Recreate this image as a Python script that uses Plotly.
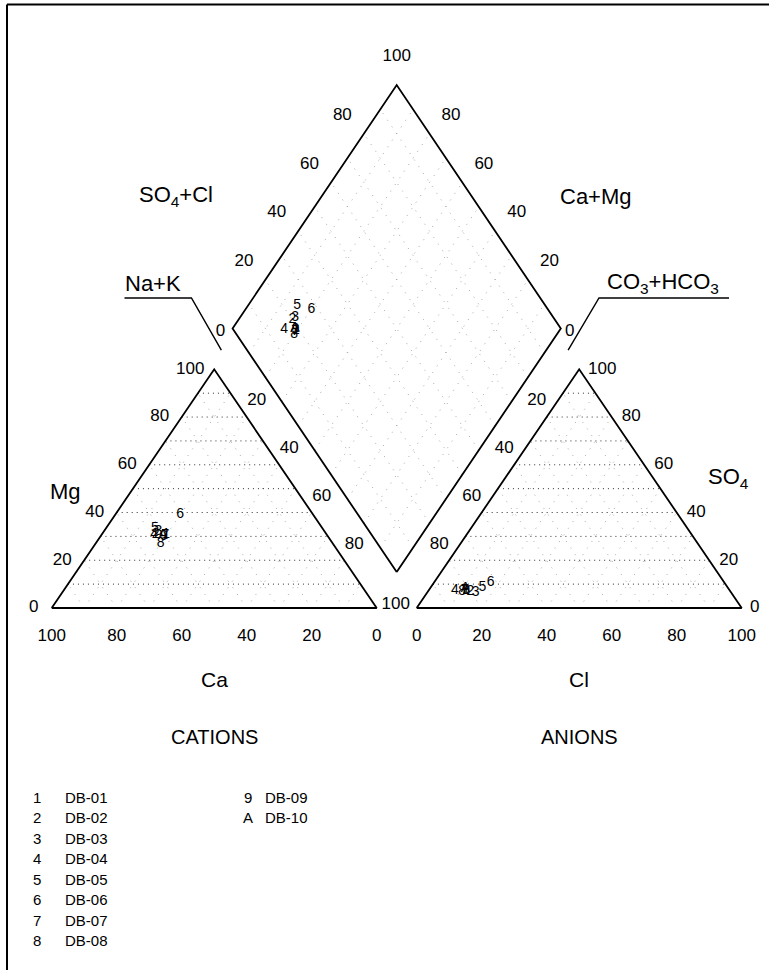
import numpy as np
import plotly.graph_objects as go

# ---------------- data ----------------
symbols = ["1", "2", "3", "4", "5", "6", "7", "8", "9", "A"]
names = ["DB-01", "DB-02", "DB-03", "DB-04", "DB-05", "DB-06", "DB-07", "DB-08", "DB-09", "DB-10"]
# cations (% meq)
ca_pct = [49.3, 52.5, 51.2, 53.0, 51.5, 41.0, 49.8, 53.0, 50.5, 50.5]
mg_pct = [31.0, 31.0, 32.0, 31.0, 33.5, 39.0, 30.5, 27.0, 30.0, 30.5]
nak_pct = [19.7, 16.5, 16.8, 16.0, 15.0, 20.0, 19.7, 20.0, 19.5, 19.0]
# anions (% meq)
hco3_pct = [81.1, 80.0, 78.7, 84.5, 75.6, 72.0, 81.5, 82.5, 81.0, 81.0]
so4_pct = [7.5, 7.0, 6.3, 7.5, 8.4, 10.5, 7.5, 7.0, 7.5, 8.0]
cl_pct = [11.4, 13.0, 15.0, 8.0, 16.0, 17.5, 11.0, 10.5, 11.5, 11.0]

tick_vals = [0, 20, 40, 60, 80, 100]
grid_vals = [10, 20, 30, 40, 50, 60, 70, 80, 90]

# ---------------- geometry ----------------
S = 100.0
H = S * np.sqrt(3) / 2
GAP = 12.3
OX = S + GAP
DBX, DBY = S + GAP / 2, 13.06   # diamond bottom vertex
HW, HH = 50.5, 88.35            # diamond half width / half height

PX_X, PX_Y = 3.25, 2.756        # px per unit
X0_PX, Y0_PX = 51.7, 608.0
W, HGT = 769, 970


def cat_xy(ca, mg, nak):
    tot = ca + mg + nak
    return (nak + mg / 2) / tot * S, mg / tot * H


def an_xy(hco3, so4, cl):
    tot = hco3 + so4 + cl
    return OX + (cl + so4 / 2) / tot * S, so4 / tot * H


def dia_xy(sc, cm):
    a, c = sc / 100.0, cm / 100.0
    return DBX + HW * (a - c), DBY + HH * (a + c)


def px(xp, yp):
    """pixel offsets -> data units"""
    return xp / PX_X, -yp / PX_Y


def at_px(xp, yp):
    """absolute pixel position -> data units"""
    return (xp - X0_PX) / PX_X, (Y0_PX - yp) / PX_Y


fig = go.Figure()

BLACK = "#000000"
FONT = "Liberation Sans, Arial, sans-serif"


def line(xs, ys, color=BLACK, width=1.8, dash="solid"):
    fig.add_trace(go.Scatter(x=xs, y=ys, mode="lines", hoverinfo="skip",
                             line=dict(color=color, width=width, dash=dash),
                             showlegend=False))


def multiline(segs, color, width, dash):
    xs, ys = [], []
    for (p, q) in segs:
        xs += [p[0], q[0], None]
        ys += [p[1], q[1], None]
    line(xs, ys, color, width, dash)


# ---- grids ----
hz, dg = [], []
for k in grid_vals:
    hz.append((cat_xy(100 - k, k, 0), cat_xy(0, k, 100 - k)))
    dg.append((cat_xy(k, 0, 100 - k), cat_xy(k, 100 - k, 0)))
    dg.append((cat_xy(100 - k, 0, k), cat_xy(0, 100 - k, k)))
    hz.append((an_xy(100 - k, k, 0), an_xy(0, k, 100 - k)))
    dg.append((an_xy(k, 0, 100 - k), an_xy(k, 100 - k, 0)))
    dg.append((an_xy(100 - k, 0, k), an_xy(0, 100 - k, k)))
    dg.append((dia_xy(k, 0), dia_xy(k, 100)))
    dg.append((dia_xy(0, k), dia_xy(100, k)))
multiline(dg, "#a8a8a8", 1, "1px,7px")
multiline(hz, "#303030", 1, "1px,4px")

# ---- outlines ----
for f in (cat_xy, an_xy):
    pts = [f(100, 0, 0), f(0, 0, 100), f(0, 100, 0), f(100, 0, 0)]
    line([p[0] for p in pts], [p[1] for p in pts])
pts = [dia_xy(0, 0), dia_xy(100, 0), dia_xy(100, 100), dia_xy(0, 100), dia_xy(0, 0)]
line([p[0] for p in pts], [p[1] for p in pts])

# ---- callout lines for Na+K and CO3+HCO3 ----
apexL = cat_xy(0, 100, 0)
apexR = an_xy(0, 100, 0)
cL = (apexL[0] + 2.2, apexL[1] + 7.0)
cL2 = (cL[0] - 9.2, cL[1] + 18.9)
cR = (apexR[0] - 3.4, apexR[1] + 7.0)
cR2 = (cR[0] + 9.5, cR[1] + 18.9)
line([cL[0], cL2[0], cL2[0] - 20.6], [cL[1], cL2[1], cL2[1]], width=1.4)
line([cR[0], cR2[0], cR2[0] + 40.0], [cR[1], cR2[1], cR2[1]], width=1.4)

# ---- tick labels ----
tx, ty, tt = [], [], []


def add(p, off, t):
    tx.append(p[0] + off[0])
    ty.append(p[1] + off[1])
    tt.append(str(t))


for t in tick_vals:
    mg_off = -18 if t == 0 else (-24 if t == 100 else -22)
    add(cat_xy(100 - t, t, 0), px(mg_off, 0), t)              # Mg
    add(cat_xy(t, 0, 100 - t), px(0, 29), t)                  # Ca
    add(an_xy(100 - t, 0, t), px(0, 29), t)                   # Cl
    so_off = 13 if t == 0 else (23 if t == 100 else 19.5)
    add(an_xy(0, t, 100 - t), px(so_off, 0), t)               # SO4
for t in [20, 40, 60, 80]:
    add(cat_xy(0, 100 - t, t), px(10, -16), t)                # Na+K
    add(an_xy(t, 100 - t, 0), px(-10, -16), t)               # CO3+HCO3
    add(dia_xy(t, 100), px(-21.5, -18), t)                    # SO4+Cl
    add(dia_xy(100, t), px(21.5, -18), t)                     # Ca+Mg
add(cat_xy(0, 0, 100), px(19, -3), 100)
add(dia_xy(0, 100), px(-12, 3), 0)
add(dia_xy(100, 0), px(9, 3), 0)
add(dia_xy(100, 100), px(0, -28), 100)

fig.add_trace(go.Scatter(x=tx, y=ty, text=tt, mode="text", hoverinfo="skip",
                         textfont=dict(family=FONT, size=17, color=BLACK),
                         showlegend=False))

# ---- sample points (plotted as their symbols) ----
for i, s in enumerate(symbols):
    cx, cy = cat_xy(ca_pct[i], mg_pct[i], nak_pct[i])
    ax, ay = an_xy(hco3_pct[i], so4_pct[i], cl_pct[i])
    dx, dy = dia_xy(so4_pct[i] + cl_pct[i], ca_pct[i] + mg_pct[i])
    fig.add_trace(go.Scatter(x=[cx, ax, dx], y=[cy, ay, dy], mode="text",
                             text=[s, s, s], name=names[i],
                             textfont=dict(family=FONT, size=14, color=BLACK),
                             showlegend=False))


# ---- titles ----
def ann(pos, text, size, xanchor="center"):
    fig.add_annotation(x=pos[0], y=pos[1], text=text, showarrow=False, xanchor=xanchor,
                       yanchor="middle", font=dict(family=FONT, size=size, color=BLACK))


ann(at_px(215, 196), "SO<sub>4</sub>+Cl", 22, "right")
ann(at_px(558, 196), "Ca+Mg", 22, "left")
ann((cL2[0] - 11.7, cL2[1] + 5.4), "Na+K", 22)
ann((cR2[0] + 19.7, cR2[1] + 5.4), "CO<sub>3</sub>+HCO<sub>3</sub>", 22)
ann(at_px(65, 491), "Mg", 22)
ann(at_px(728, 478), "SO<sub>4</sub>", 22)
ann((S / 2, -26.1), "Ca", 21)
ann((OX + S / 2, -26.1), "Cl", 21)
ann((S / 2, -46.8), "CATIONS", 20)
ann((OX + S / 2, -46.8), "ANIONS", 20)

# ---- legend (symbol list) ----
leg_x = [(37, 63), (248, 263)]
for i, s in enumerate(symbols):
    col, row = divmod(i, 8)
    yp = 797 + 20.5 * row
    xs, xn = leg_x[col]
    ann(at_px(xs, yp), s, 15)
    ann(at_px(xn, yp), names[i], 15, "left")

# ---- frame ----
fig.add_shape(type="line", xref="paper", yref="paper", x0=7 / W, x1=1.0,
              y0=1 - 4.5 / HGT, y1=1 - 4.5 / HGT, line=dict(color=BLACK, width=2))
fig.add_shape(type="line", xref="paper", yref="paper", x0=7 / W, x1=7 / W,
              y0=0, y1=1 - 4.5 / HGT, line=dict(color=BLACK, width=2))

xmin = -X0_PX / PX_X
ymax = Y0_PX / PX_Y
fig.update_layout(
    width=W, height=HGT, margin=dict(l=0, r=0, t=0, b=0),
    paper_bgcolor="white", plot_bgcolor="white",
    xaxis=dict(range=[xmin, xmin + W / PX_X], visible=False, fixedrange=True),
    yaxis=dict(range=[ymax - HGT / PX_Y, ymax], visible=False, fixedrange=True),
    showlegend=False,
)
fig.write_html("out.html", config={"displayModeBar": False},
               post_script="document.body.style.margin='0';document.body.style.overflow='hidden';")
